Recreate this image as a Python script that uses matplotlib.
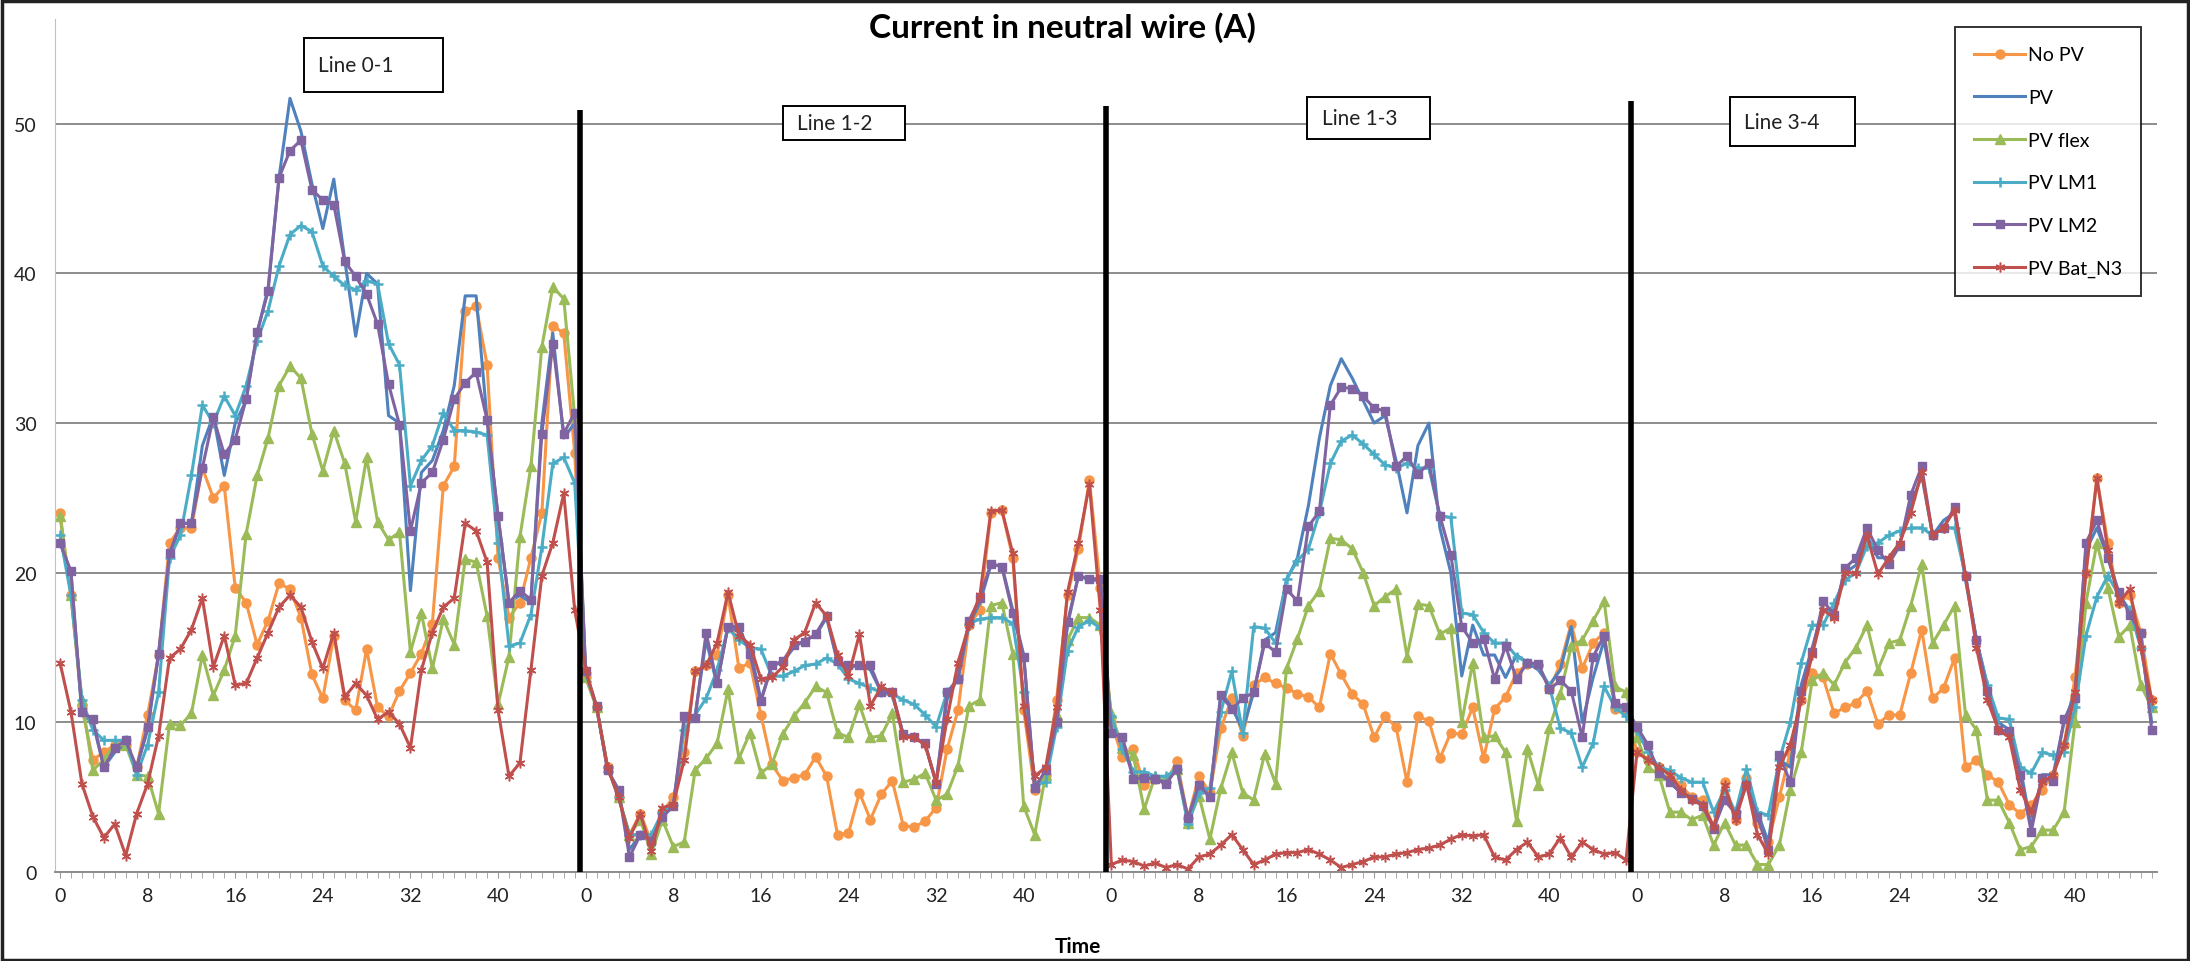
import numpy as np
import matplotlib
matplotlib.use("Agg")
import matplotlib.pyplot as plt
from matplotlib.patches import Rectangle

plt.rcParams['font.family'] = ['Lato', 'DejaVu Sans']

# values: 4 lines x 48 time steps each
no_pv = [
    24.0, 18.5, 11.0, 7.5, 8.0, 8.5, 8.5, 7.0, 10.5, 14.5, 22.0, 23.0, 23.0, 27.0, 25.0, 25.8,
    19.0, 18.0, 15.2, 16.8, 19.3, 18.9, 17.0, 13.2, 11.6, 15.8, 11.5, 10.8, 14.9, 11.0, 10.4, 12.1,
    13.3, 14.6, 16.6, 25.8, 27.1, 37.5, 37.8, 33.9, 21.0, 17.0, 18.0, 21.0, 24.0, 36.5, 36.0, 28.0,
    13.0, 11.0, 7.0, 5.0, 2.5, 3.9, 2.0, 4.0, 5.0, 8.0, 13.4, 13.8, 14.5, 18.5, 13.6, 14.0,
    10.5, 7.2, 6.1, 6.3, 6.5, 7.7, 6.4, 2.5, 2.6, 5.3, 3.5, 5.2, 6.1, 3.1, 3.0, 3.4,
    4.3, 8.2, 10.8, 16.5, 17.5, 24.0, 24.2, 21.0, 10.8, 5.5, 6.5, 11.5, 18.5, 21.6, 26.2, 19.0,
    10.0, 7.7, 8.2, 5.8, 6.2, 6.0, 7.4, 3.6, 6.4, 5.3, 9.6, 11.6, 9.1, 12.5, 13.0, 12.6,
    12.3, 11.9, 11.7, 11.0, 14.6, 13.2, 11.9, 11.2, 9.0, 10.4, 9.7, 6.0, 10.4, 10.1, 7.6, 9.3,
    9.2, 11.0, 7.6, 10.9, 11.7, 13.3, 13.9, 13.8, 12.2, 13.9, 16.6, 13.6, 15.3, 16.0, 10.9, 10.9,
    8.0, 7.5, 7.0, 6.5, 5.8, 5.0, 4.8, 3.0, 6.0, 3.5, 6.3, 3.3, 2.0, 5.0, 8.0, 11.5,
    13.3, 13.0, 10.6, 11.0, 11.3, 12.1, 9.9, 10.5, 10.5, 13.3, 16.2, 11.6, 12.3, 14.3, 7.0, 7.5,
    6.5, 6.0, 4.5, 3.9, 4.5, 5.5, 6.5, 8.5, 13.0, 20.0, 26.3, 22.0, 18.0, 18.5, 16.0, 11.5,
]

pv = [
    22.0, 20.0, 10.5, 10.0, 7.0, 8.0, 8.5, 7.0, 9.5, 14.5, 21.0, 23.3, 23.3, 28.5, 30.5, 26.5,
    30.0, 31.5, 36.0, 39.0, 46.4, 51.7, 49.5, 46.0, 43.0, 46.3, 40.9, 35.8, 40.0, 39.3, 30.5, 30.0,
    18.8, 26.7, 27.5, 29.5, 32.5, 38.5, 38.5, 30.2, 23.8, 18.0, 18.5, 18.0, 30.0, 36.0, 29.0, 30.0,
    13.4, 11.0, 6.8, 5.5, 1.5, 2.5, 2.1, 3.7, 4.4, 10.0, 10.5, 15.5, 12.5, 16.5, 16.0, 15.0,
    11.5, 13.8, 14.0, 15.0, 15.5, 15.8, 17.0, 14.0, 13.5, 14.0, 13.5, 12.0, 11.8, 9.2, 9.0, 8.5,
    6.0, 11.5, 13.0, 16.5, 18.0, 20.5, 20.5, 17.5, 14.5, 5.8, 6.5, 10.0, 16.5, 19.8, 19.5, 19.5,
    9.5, 9.0, 6.5, 6.3, 6.3, 6.0, 7.0, 3.5, 6.0, 5.0, 12.0, 11.0, 9.5, 12.0, 15.5, 16.0,
    19.5, 21.0, 24.5, 29.0, 32.5, 34.3, 33.0, 31.5, 30.0, 30.5, 27.5, 24.0, 28.5, 30.0, 23.0, 20.0,
    13.1, 16.5, 14.5, 14.5, 13.0, 14.5, 14.0, 13.5, 12.5, 13.5, 16.4, 10.0, 13.0, 15.5, 11.0, 11.0,
    9.5, 8.3, 6.8, 6.0, 5.3, 5.0, 4.5, 3.0, 5.0, 4.0, 6.0, 4.0, 2.0, 7.5, 7.0, 12.5,
    15.0, 17.5, 17.5, 20.0, 20.5, 22.5, 21.0, 21.0, 22.0, 24.5, 26.5, 22.5, 23.5, 24.0, 19.5, 15.5,
    12.5, 10.0, 9.5, 7.0, 3.0, 6.5, 6.5, 10.0, 12.0, 21.5, 23.0, 21.0, 18.5, 17.5, 15.5, 10.0,
]

pv_flex = [
    23.8, 18.5, 11.5, 6.8, 7.5, 8.5, 8.5, 6.5, 6.4, 3.9, 9.9, 9.8, 10.6, 14.5, 11.8, 13.5,
    15.8, 22.6, 26.5, 29.0, 32.5, 33.8, 33.0, 29.3, 26.8, 29.5, 27.3, 23.4, 27.7, 23.4, 22.2, 22.7,
    14.7, 17.3, 13.6, 16.9, 15.2, 20.9, 20.7, 17.1, 11.2, 14.4, 22.4, 27.1, 35.1, 39.1, 38.3, 30.4,
    13.0, 11.0, 7.0, 5.0, 2.5, 3.5, 1.2, 3.5, 1.7, 2.0, 6.8, 7.6, 8.6, 12.2, 7.6, 9.3,
    6.6, 7.2, 9.2, 10.4, 11.3, 12.4, 12.0, 9.3, 9.0, 11.2, 9.0, 9.1, 10.6, 6.0, 6.2, 6.6,
    4.8, 5.2, 7.1, 11.1, 11.5, 17.8, 18.0, 14.6, 4.4, 2.5, 6.5, 10.5, 15.5, 17.0, 17.0, 16.5,
    10.6, 8.3, 7.8, 4.2, 6.4, 6.3, 6.9, 3.3, 5.1, 2.2, 5.6, 8.0, 5.3, 4.8, 7.9, 5.9,
    13.6, 15.6, 17.8, 18.8, 22.3, 22.2, 21.6, 20.0, 17.8, 18.4, 18.9, 14.4, 17.9, 17.8, 15.9, 16.3,
    10.0, 14.0, 9.0, 9.1, 8.0, 3.4, 8.2, 5.8, 9.6, 11.9, 15.1, 15.5, 16.8, 18.1, 12.4, 12.0,
    9.0, 7.0, 6.5, 4.0, 4.0, 3.5, 3.8, 1.8, 3.3, 1.8, 1.8, 0.5, 0.5, 1.8, 5.5, 8.0,
    12.8, 13.3, 12.5, 14.0, 15.0, 16.5, 13.5, 15.3, 15.5, 17.8, 20.6, 15.3, 16.5, 17.8, 10.5, 9.5,
    4.8, 4.8, 3.3, 1.5, 1.7, 2.8, 2.8, 4.0, 10.0, 18.0, 22.0, 19.0, 15.7, 16.5, 12.5, 11.0,
]

pv_lm1 = [
    22.5, 18.5, 11.5, 9.5, 8.8, 8.8, 8.8, 6.5, 8.5, 12.0, 21.0, 22.5, 26.5, 31.2, 30.0, 31.8,
    30.5, 32.5, 35.5, 37.5, 40.5, 42.6, 43.2, 42.8, 40.5, 39.8, 39.2, 38.9, 39.5, 39.3, 35.3, 33.9,
    25.8, 27.5, 28.5, 30.7, 29.5, 29.5, 29.4, 29.2, 22.0, 15.1, 15.3, 17.2, 21.7, 27.3, 27.7, 26.0,
    13.3, 11.0, 7.0, 5.0, 2.5, 2.5, 2.5, 4.0, 4.5, 9.5, 10.5, 11.6, 13.5, 16.3, 15.5, 15.0,
    14.9, 13.1, 13.1, 13.4, 13.8, 13.9, 14.3, 13.9, 12.9, 12.6, 12.3, 12.0, 11.9, 11.5, 11.2, 10.5,
    9.7, 12.0, 12.9, 16.6, 16.9, 17.0, 17.0, 16.6, 12.0, 5.8, 6.0, 9.7, 14.8, 16.4, 16.8, 16.3,
    10.4, 8.2, 6.7, 6.7, 6.4, 6.4, 6.9, 3.2, 5.3, 5.6, 10.7, 13.4, 9.3, 16.4, 16.3, 15.3,
    19.6, 20.8, 21.6, 24.0, 27.3, 28.8, 29.2, 28.6, 27.9, 27.2, 27.0, 27.3, 27.0, 27.0, 23.8, 23.7,
    17.3, 17.2, 16.0, 15.3, 15.3, 14.4, 14.0, 13.8, 12.4, 9.6, 9.3, 7.0, 8.6, 12.4, 11.0, 10.4,
    9.5, 8.0, 7.0, 6.8, 6.3, 6.0, 6.0, 4.0, 5.5, 4.0, 6.9, 4.0, 3.8, 7.5, 10.0, 14.0,
    16.5, 16.5, 18.0, 19.5, 20.0, 21.8, 22.0, 22.5, 22.8, 23.0, 23.0, 22.5, 23.0, 23.0, 19.8, 15.5,
    12.5, 10.3, 10.2, 7.0, 6.6, 8.0, 7.8, 8.0, 11.0, 15.8, 18.4, 19.8, 18.5, 17.5, 15.0, 11.0,
]

pv_lm2 = [
    22.0, 20.1, 10.7, 10.2, 7.0, 8.3, 8.8, 7.0, 9.7, 14.6, 21.3, 23.3, 23.3, 27.0, 30.4, 27.9,
    28.9, 31.6, 36.1, 38.8, 46.4, 48.2, 48.9, 45.6, 44.9, 44.6, 40.8, 39.8, 38.6, 36.6, 32.6, 29.9,
    22.8, 26.0, 26.7, 28.9, 31.6, 32.7, 33.4, 30.2, 23.8, 18.0, 18.8, 18.2, 29.3, 35.3, 29.3, 30.7,
    13.4, 11.1, 6.8, 5.5, 1.0, 2.5, 2.1, 3.7, 4.4, 10.4, 10.3, 16.0, 12.6, 16.4, 16.4, 14.6,
    11.4, 13.8, 14.1, 15.2, 15.4, 15.9, 17.1, 14.1, 13.8, 13.8, 13.8, 12.0, 12.0, 9.2, 9.0, 8.6,
    5.9, 12.0, 12.9, 16.8, 18.3, 20.6, 20.4, 17.3, 14.4, 5.6, 6.8, 10.0, 16.7, 19.8, 19.6, 19.6,
    9.3, 9.0, 6.2, 6.3, 6.2, 5.9, 6.9, 3.6, 5.8, 5.0, 11.8, 10.9, 11.6, 12.0, 15.3, 14.7,
    18.9, 18.1, 23.1, 24.1, 31.2, 32.4, 32.3, 31.8, 31.0, 30.8, 27.1, 27.8, 26.6, 27.3, 23.8, 21.2,
    16.4, 15.3, 15.6, 12.9, 15.1, 12.9, 14.0, 13.9, 12.2, 12.8, 12.1, 9.0, 14.4, 15.8, 11.3, 11.0,
    9.7, 8.5, 6.6, 6.0, 5.3, 4.9, 4.4, 2.9, 4.8, 3.9, 5.8, 3.7, 1.5, 7.8, 6.0, 12.1,
    14.7, 18.1, 17.2, 20.3, 21.0, 23.0, 21.5, 20.6, 21.8, 25.2, 27.1, 22.5, 23.0, 24.4, 19.8, 15.5,
    12.1, 9.5, 9.4, 6.5, 2.7, 6.3, 6.1, 10.2, 11.6, 22.0, 23.5, 21.0, 18.7, 17.2, 16.0, 9.5,
]

pv_bat_n3 = [
    14.0, 10.7, 5.9, 3.7, 2.3, 3.2, 1.1, 3.9, 5.9, 9.1, 14.3, 14.9, 16.2, 18.3, 13.7, 15.8,
    12.5, 12.6, 14.3, 16.0, 17.7, 18.5, 17.7, 15.4, 13.6, 16.0, 11.7, 12.6, 11.8, 10.2, 10.7, 9.9,
    8.3, 13.5, 16.0, 17.7, 18.3, 23.3, 22.8, 20.7, 10.8, 6.4, 7.3, 13.5, 19.8, 22.0, 25.3, 17.5,
    13.5, 11.0, 7.0, 5.0, 2.3, 3.9, 1.4, 4.3, 4.5, 7.5, 13.4, 13.8, 15.3, 18.7, 15.8, 15.2,
    12.9, 13.0, 13.7, 15.5, 16.0, 18.0, 17.1, 14.5, 13.1, 15.9, 11.1, 12.4, 12.0, 9.0, 9.0, 8.5,
    6.0, 10.2, 14.0, 16.5, 18.5, 24.1, 24.2, 21.3, 11.1, 6.4, 7.0, 11.0, 18.7, 22.0, 25.9, 17.5,
    0.5, 0.8, 0.7, 0.4, 0.6, 0.3, 0.5, 0.2, 1.0, 1.2, 1.8, 2.5, 1.5, 0.5, 0.8, 1.2,
    1.3, 1.3, 1.5, 1.2, 0.8, 0.3, 0.5, 0.7, 1.0, 1.0, 1.2, 1.3, 1.5, 1.6, 1.8, 2.2,
    2.5, 2.4, 2.5, 1.0, 0.8, 1.5, 2.0, 1.0, 1.2, 2.3, 1.0, 2.0, 1.5, 1.2, 1.3, 0.8,
    8.0, 7.5, 7.0, 6.5, 5.5, 4.8, 4.5, 3.0, 5.8, 3.5, 5.9, 2.5, 1.2, 7.0, 8.5, 11.5,
    14.5, 17.5, 17.0, 20.0, 20.0, 22.5, 19.9, 21.0, 22.0, 24.0, 26.7, 22.5, 23.0, 24.2, 19.8, 15.0,
    11.5, 9.5, 9.0, 5.5, 4.0, 6.0, 6.5, 8.5, 12.0, 20.0, 26.3, 21.5, 18.0, 18.9, 15.0, 11.5,
]

line_names = ['Line 0-1', 'Line 1-2', 'Line 1-3', 'Line 3-4']
steps_per_line = 48
tick_labels = ['0', '8', '16', '24', '32', '40']

n = len(no_pv)
x = np.arange(n)

fig = plt.figure(figsize=(21.9, 9.62), dpi=100)
ax = fig.add_axes([0.0249, 0.0925, 0.9601, 0.8867])

series = [
    ('No PV', no_pv, '#F79646', dict(marker='o', markersize=6.5)),
    ('PV', pv, '#4F81BD', dict(marker=None)),
    ('PV flex', pv_flex, '#9BBB59', dict(marker='^', markersize=6.5)),
    ('PV LM1', pv_lm1, '#4BACC6', dict(marker='+', markersize=7, markeredgewidth=1.8)),
    ('PV LM2', pv_lm2, '#8064A2', dict(marker='s', markersize=6)),
    ('PV Bat_N3', pv_bat_n3, '#C0504D', dict(marker=(6, 2, 0), markersize=7, markeredgewidth=1.1)),
]
for name, vals, col, mk in series:
    ax.plot(x, vals, color=col, lw=2.2, label=name, **mk)

ax.set_xlim(-0.5, n - 0.5)
ax.set_ylim(0, 57)

# ticks: labels every 8 steps, restart in each line segment
major = [k * steps_per_line + int(t) for k in range(len(line_names)) for t in tick_labels]
ax.set_xticks(major)
ax.set_xticklabels(tick_labels * len(line_names))
ax.set_xticks(np.arange(n), minor=True)
ax.tick_params(axis='x', which='both', length=4, color='#9a9a9a', pad=7, labelsize=14,
               labelcolor='#222222')
ax.set_yticks([0, 10, 20, 30, 40, 50])
ax.tick_params(axis='y', length=0, pad=13, labelsize=14, labelcolor='#222222')

ax.yaxis.grid(True, color='#8c8c8c', lw=1.4)
ax.set_axisbelow(True)
for s in ['top', 'right']:
    ax.spines[s].set_visible(False)
ax.spines['left'].set_color('#c0c0c0')
ax.spines['bottom'].set_color('#8c8c8c')
ax.spines['bottom'].set_linewidth(1.4)

# black separators between line segments
sep_tops = [50.9, 51.2, 51.5]
for k, top in enumerate(sep_tops):
    xs = (k + 1) * steps_per_line - 0.5
    ax.plot([xs, xs], [0, top], color='black', lw=4, zorder=8, solid_capstyle='butt')

# label boxes for each segment
boxes = [(22.3, 52.1, 12.7, 3.6), (66.0, 48.9, 11.2, 2.3), (113.9, 49.0, 11.2, 2.8), (152.5, 48.5, 11.4, 3.3)]
for name, (bx, by, bw, bh) in zip(line_names, boxes):
    ax.add_patch(Rectangle((bx, by), bw, bh, facecolor='white', edgecolor='black',
                           lw=1.4, zorder=9, clip_on=False))
    ax.text(bx + 1.3, by + bh / 2, name, ha='left', va='center', fontsize=15,
            color='#222222', zorder=10)

fig.text(0.485, 0.971, 'Current in neutral wire (A)', ha='center', va='center',
         fontsize=24, fontweight='bold')
fig.text(0.492, 0.016, 'Time', ha='center', va='center', fontsize=15, fontweight='bold')

leg = ax.legend(loc='upper left', bbox_to_anchor=(0.8927, 0.971), bbox_transform=fig.transFigure,
                fancybox=False, edgecolor='black', fontsize=14, labelspacing=1.32,
                handlelength=2.6, handletextpad=0.15, borderpad=1.0, borderaxespad=0)
leg.get_frame().set_linewidth(1.4)
leg.set_zorder(20)

fig.add_artist(Rectangle((0.001, 0.001), 0.998, 0.997, transform=fig.transFigure,
                         fill=False, edgecolor='#222222', lw=2.5))

fig.savefig('out.png', dpi=100)
